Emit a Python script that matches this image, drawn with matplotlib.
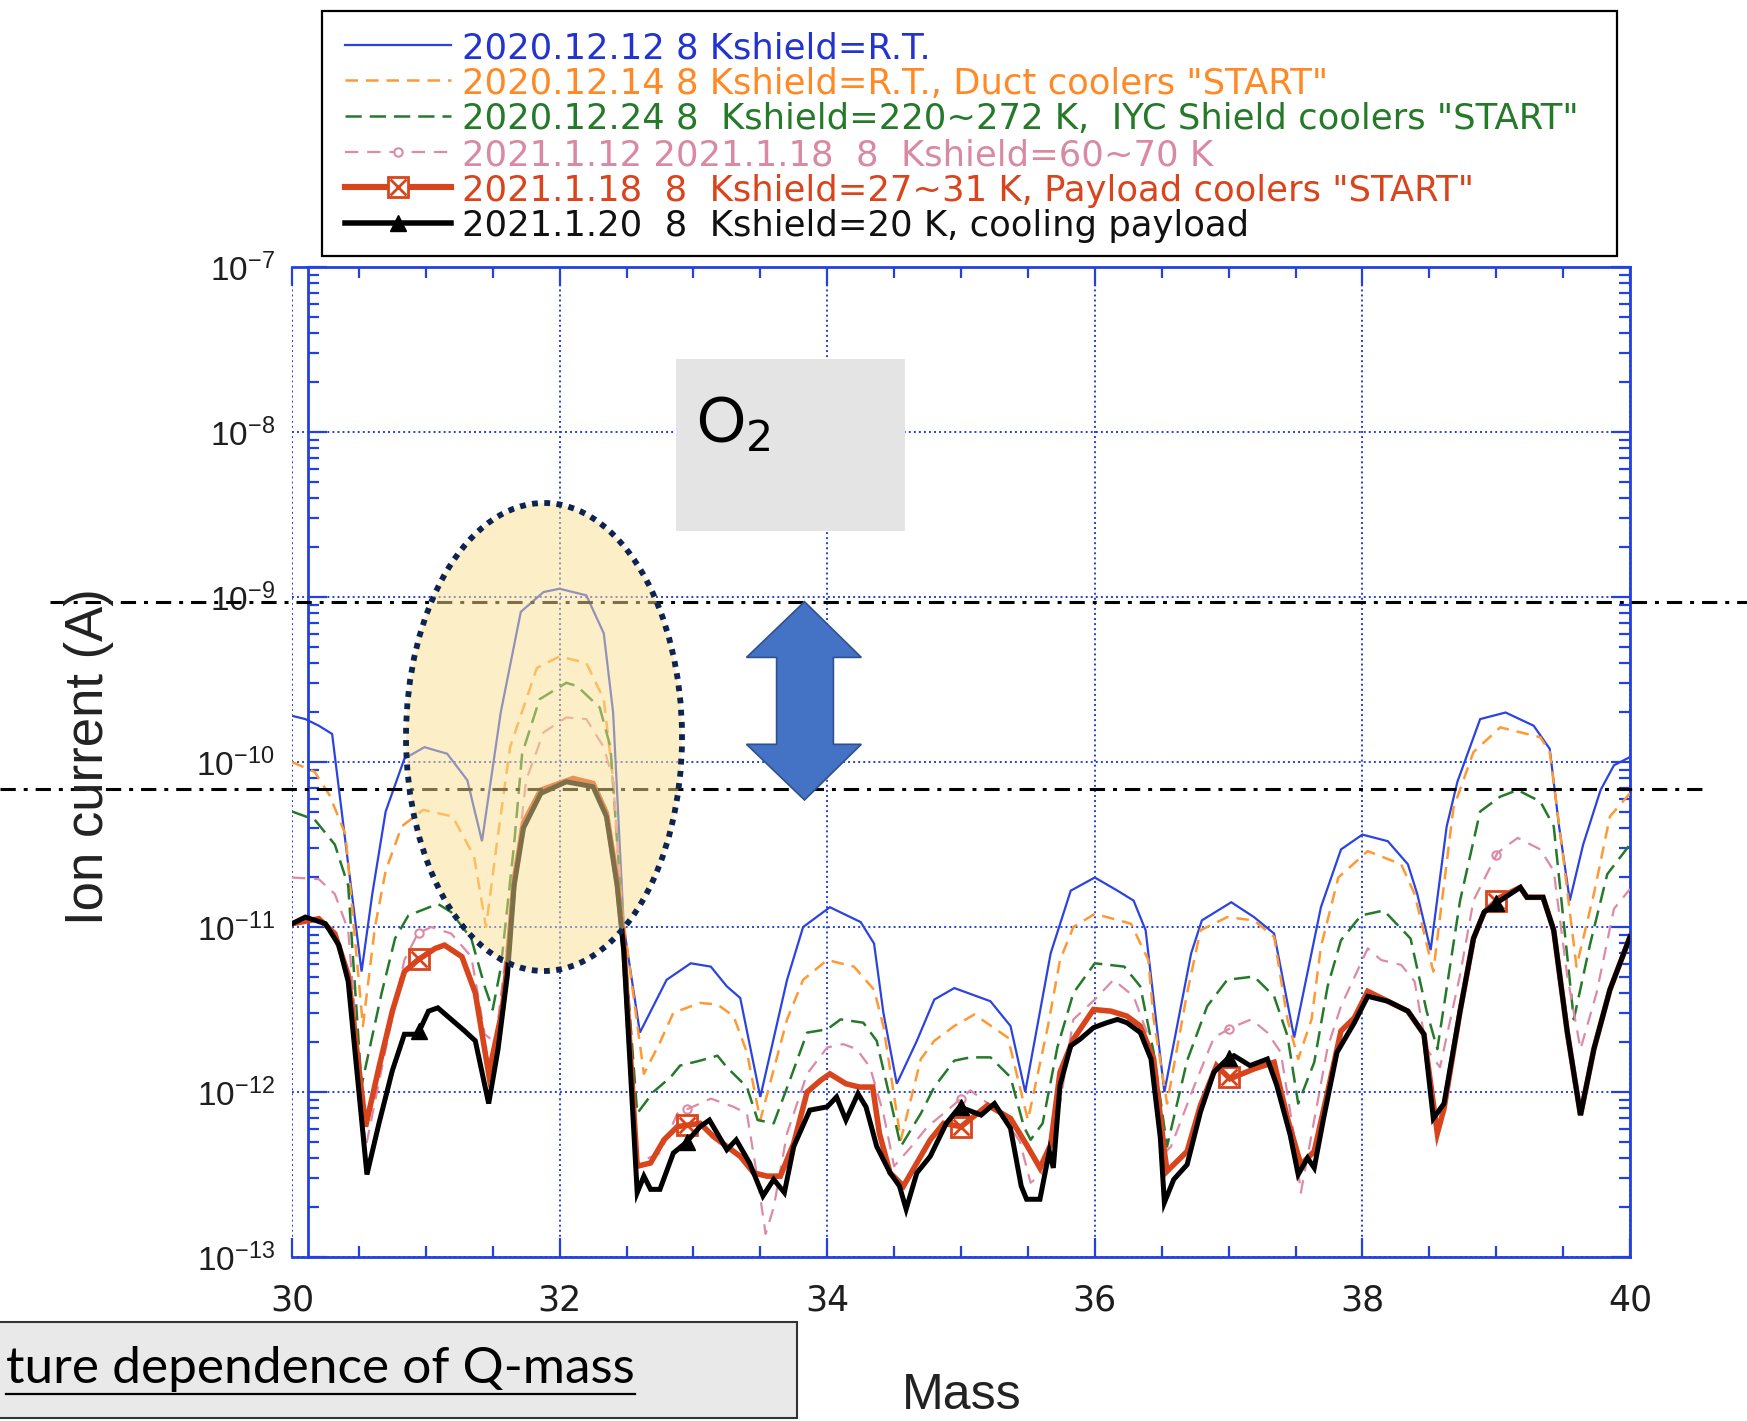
import numpy as np
import matplotlib
matplotlib.use("Agg")
import matplotlib.pyplot as plt
from matplotlib.lines import Line2D
from matplotlib.patches import Ellipse, Rectangle, Polygon
from matplotlib.ticker import LogLocator, MultipleLocator, NullFormatter

# ---- data (mass vs log10 of ion current [A]) ----
blue_mass = [30.0, 30.1, 30.2, 30.3, 30.42, 30.52, 30.6, 30.7, 30.84, 30.99, 31.16, 31.31, 31.42, 31.56,
             31.71, 31.88, 32.0, 32.2, 32.33, 32.4, 32.48, 32.6, 32.8, 32.98, 33.13, 33.25, 33.35, 33.5,
             33.7, 33.82, 34.02, 34.25, 34.35, 34.42, 34.52, 34.67, 34.8, 34.95, 35.22, 35.37, 35.48,
             35.67, 35.82, 36.0, 36.17, 36.29, 36.38, 36.52, 36.72, 36.8, 37.02, 37.19, 37.34, 37.49,
             37.69, 37.84, 38.0, 38.19, 38.34, 38.41, 38.51, 38.63, 38.71, 38.88, 39.07, 39.28, 39.40,
             39.47, 39.55, 39.65, 39.78, 39.88, 40.0]
blue_log = [-9.72, -9.74, -9.78, -9.83, -10.62, -11.27, -10.8, -10.30, -9.98, -9.91, -9.95, -10.11, -10.48,
            -9.70, -9.09, -8.97, -8.95, -8.99, -9.22, -9.70, -11.0, -11.64, -11.32, -11.22, -11.24, -11.36,
            -11.43, -12.03, -11.32, -11.0, -10.88, -10.97, -11.10, -11.52, -11.95, -11.69, -11.44, -11.37,
            -11.45, -11.60, -12.0, -11.16, -10.78, -10.70, -10.78, -10.84, -11.02, -12.0, -11.16, -10.96,
            -10.85, -10.94, -11.04, -11.67, -10.88, -10.53, -10.44, -10.48, -10.62, -10.80, -11.14, -10.39,
            -10.12, -9.74, -9.70, -9.78, -9.92, -10.39, -10.84, -10.50, -10.17, -10.02, -9.97]

orange_mass = [30.0, 30.17, 30.28, 30.40, 30.53, 30.62, 30.70, 30.82, 30.98, 31.2, 31.36, 31.45, 31.53,
               31.63, 31.83, 32.0, 32.2, 32.33, 32.4, 32.47, 32.63, 32.75, 32.85, 33.05, 33.18, 33.3, 33.4,
               33.5, 33.7, 33.82, 34.0, 34.2, 34.35, 34.42, 34.55, 34.70, 34.8, 34.95, 35.1, 35.35, 35.5,
               35.65, 35.74, 35.84, 36.0, 36.27, 36.4, 36.44, 36.54, 36.69, 36.79, 36.99, 37.19, 37.34,
               37.44, 37.52, 37.62, 37.69, 37.82, 38.04, 38.29, 38.39, 38.53, 38.68, 38.83, 39.03, 39.33,
               39.40, 39.48, 39.60, 39.73, 39.85, 40.0]
orange_log = [-10.0, -10.06, -10.2, -10.44, -11.60, -11.0, -10.66, -10.39, -10.29, -10.33, -10.57, -11.0,
              -10.5, -9.91, -9.43, -9.36, -9.40, -9.62, -10.11, -10.92, -11.89, -11.70, -11.52, -11.46,
              -11.47, -11.54, -11.76, -12.17, -11.56, -11.32, -11.2, -11.24, -11.38, -11.60, -12.29, -11.80,
              -11.69, -11.60, -11.53, -11.67, -12.17, -11.6, -11.2, -11.0, -10.92, -10.98, -11.2, -11.56,
              -12.07, -11.40, -11.02, -10.94, -10.96, -11.06, -11.56, -11.80, -11.56, -11.12, -10.70,
              -10.54, -10.62, -10.80, -11.27, -10.28, -9.94, -9.79, -9.85, -9.94, -10.44, -11.24, -10.80,
              -10.33, -10.19]

green_mass = [30.0, 30.17, 30.32, 30.42, 30.52, 30.67, 30.77, 30.87, 31.09, 31.19, 31.34, 31.44, 31.5,
              31.56, 31.66, 31.72, 31.85, 32.05, 32.13, 32.3, 32.38, 32.45, 32.58, 32.7, 32.83, 32.9, 33.05,
              33.18, 33.25, 33.4, 33.48, 33.6, 33.72, 33.85, 34.0, 34.1, 34.27, 34.37, 34.45, 34.55, 34.7,
              34.8, 34.95, 35.07, 35.22, 35.37, 35.47, 35.52, 35.61, 35.72, 35.84, 36.0, 36.22, 36.34,
              36.44, 36.54, 36.69, 36.84, 36.99, 37.19, 37.34, 37.44, 37.52, 37.64, 37.74, 37.84, 37.99,
              38.16, 38.36, 38.48, 38.56, 38.73, 38.88, 39.03, 39.16, 39.33, 39.43, 39.58, 39.70, 39.83, 40.0]
green_log = [-10.3, -10.35, -10.50, -10.75, -11.96, -11.40, -11.07, -10.93, -10.86, -10.91, -11.07, -11.36,
             -11.5, -11.25, -10.5, -9.95, -9.62, -9.52, -9.54, -9.67, -9.91, -10.72, -12.13, -12.0, -11.91,
             -11.84, -11.81, -11.78, -11.85, -11.97, -12.17, -12.19, -11.93, -11.64, -11.62, -11.56, -11.58,
             -11.69, -11.97, -12.33, -12.13, -11.97, -11.81, -11.79, -11.79, -11.91, -12.21, -12.29, -12.19,
             -11.73, -11.40, -11.22, -11.24, -11.36, -11.76, -12.33, -11.81, -11.48, -11.32, -11.30, -11.42,
             -11.66, -12.07, -11.82, -11.36, -11.08, -10.93, -10.90, -11.07, -11.51, -11.74, -10.84, -10.30,
             -10.21, -10.17, -10.24, -10.39, -11.56, -11.11, -10.68, -10.50]

pink_mass = [30.0, 30.2, 30.32, 30.42, 30.55, 30.7, 30.84, 30.94, 31.04, 31.19, 31.34, 31.44, 31.52, 31.65,
             31.75, 31.88, 32.05, 32.2, 32.33, 32.4, 32.45, 32.58, 32.75, 32.88, 33.05, 33.13, 33.3, 33.4,
             33.48, 33.54, 33.6, 33.7, 33.85, 34.0, 34.12, 34.22, 34.32, 34.42, 34.5, 34.63, 34.75, 34.9,
             35.07, 35.3, 35.44, 35.52, 35.6, 35.72, 35.84, 36.0, 36.14, 36.29, 36.39, 36.52, 36.57, 36.74,
             36.89, 37.02, 37.17, 37.29, 37.39, 37.49, 37.54, 37.64, 37.74, 37.84, 38.04, 38.14, 38.29,
             38.39, 38.48, 38.58, 38.73, 38.83, 39.01, 39.16, 39.33, 39.43, 39.53, 39.63, 39.75, 39.88, 40.0]
pink_log = [-10.7, -10.71, -10.80, -11.02, -12.34, -11.74, -11.20, -11.04, -11.0, -11.04, -11.18, -11.65,
            -11.7, -10.82, -10.11, -9.82, -9.73, -9.74, -9.91, -10.11, -10.72, -12.43, -12.37, -12.13,
            -12.07, -12.04, -12.09, -12.13, -12.53, -12.86, -12.70, -12.25, -11.89, -11.73, -11.71, -11.74,
            -11.85, -12.13, -12.45, -12.33, -12.21, -12.11, -11.99, -12.13, -12.3, -12.55, -12.5, -12.17,
            -11.56, -11.44, -11.32, -11.42, -11.64, -12.37, -12.33, -11.97, -11.67, -11.61, -11.56, -11.64,
            -11.76, -12.27, -12.61, -12.17, -11.73, -11.48, -11.13, -11.20, -11.23, -11.33, -11.74, -11.85,
            -11.29, -10.84, -10.55, -10.46, -10.53, -10.66, -11.29, -11.74, -11.40, -10.89, -10.77]

red_mass = [30.0, 30.2, 30.32, 30.42, 30.55, 30.65, 30.75, 30.84, 30.94, 31.07, 31.14, 31.27, 31.37, 31.47,
            31.57, 31.61, 31.66, 31.73, 31.86, 32.1, 32.25, 32.35, 32.43, 32.48, 32.58, 32.68, 32.78, 32.88,
            33.05, 33.15, 33.25, 33.35, 33.45, 33.55, 33.65, 33.75, 33.85, 33.95, 34.02, 34.14, 34.24,
            34.34, 34.39, 34.47, 34.57, 34.67, 34.77, 34.87, 35.0, 35.2, 35.37, 35.49, 35.59, 35.67, 35.74,
            35.84, 35.99, 36.12, 36.24, 36.34, 36.44, 36.52, 36.54, 36.69, 36.79, 36.91, 37.01, 37.19,
            37.34, 37.44, 37.54, 37.64, 37.74, 37.84, 37.94, 38.04, 38.19, 38.34, 38.46, 38.56, 38.61,
            38.73, 38.83, 38.91, 39.03, 39.18, 39.23, 39.35, 39.43, 39.53, 39.63, 39.73, 39.85, 40.0]
red_log = [-10.98, -10.95, -11.04, -11.29, -12.21, -11.85, -11.51, -11.27, -11.20, -11.13, -11.11, -11.18,
           -11.40, -11.89, -11.51, -11.22, -10.72, -10.37, -10.17, -10.10, -10.13, -10.31, -10.72, -11.12,
           -12.45, -12.43, -12.29, -12.21, -12.19, -12.27, -12.33, -12.39, -12.49, -12.51, -12.51, -12.31,
           -12.0, -11.93, -11.89, -11.95, -11.97, -11.97, -12.25, -12.49, -12.57, -12.43, -12.29, -12.19,
           -12.21, -12.08, -12.16, -12.32, -12.46, -12.32, -11.88, -11.68, -11.50, -11.51, -11.54, -11.60,
           -11.80, -12.36, -12.48, -12.36, -12.08, -11.84, -11.92, -11.86, -11.82, -12.16, -12.44, -12.36,
           -12.0, -11.63, -11.55, -11.39, -11.45, -11.51, -11.65, -12.25, -12.1, -11.51, -11.07, -10.91,
           -10.82, -10.76, -10.82, -10.82, -11.02, -11.63, -12.14, -11.74, -11.38, -11.06]

black_mass = [30.0, 30.1, 30.25, 30.35, 30.42, 30.56, 30.65, 30.75, 30.84, 30.94, 31.02, 31.09, 31.19,
              31.29, 31.37, 31.47, 31.54, 31.61, 31.66, 31.73, 31.86, 32.05, 32.25, 32.35, 32.43, 32.48,
              32.58, 32.63, 32.68, 32.75, 32.85, 32.94, 33.05, 33.12, 33.25, 33.32, 33.42, 33.52, 33.6,
              33.68, 33.75, 33.87, 34.0, 34.07, 34.14, 34.23, 34.29, 34.37, 34.47, 34.54, 34.59, 34.67,
              34.77, 34.89, 34.99, 35.15, 35.25, 35.37, 35.45, 35.49, 35.59, 35.66, 35.69, 35.74, 35.82,
              35.89, 35.99, 36.09, 36.17, 36.24, 36.34, 36.42, 36.49, 36.52, 36.59, 36.69, 36.79, 36.89,
              36.99, 37.04, 37.16, 37.29, 37.36, 37.46, 37.52, 37.59, 37.64, 37.71, 37.81, 37.94, 38.04,
              38.19, 38.34, 38.46, 38.53, 38.61, 38.73, 38.83, 38.91, 39.03, 39.18, 39.23, 39.35, 39.43,
              39.53, 39.63, 39.73, 39.85, 40.0]
black_log = [-10.98, -10.94, -10.98, -11.11, -11.33, -12.50, -12.19, -11.87, -11.65, -11.65, -11.51, -11.49,
             -11.56, -11.63, -11.69, -12.07, -11.74, -11.29, -10.75, -10.40, -10.19, -10.12, -10.15, -10.33,
             -10.75, -11.15, -12.61, -12.51, -12.59, -12.59, -12.37, -12.31, -12.21, -12.17, -12.35, -12.29,
             -12.43, -12.63, -12.53, -12.61, -12.33, -12.11, -12.09, -12.03, -12.17, -12.01, -12.09, -12.33,
             -12.49, -12.57, -12.71, -12.49, -12.39, -12.19, -12.09, -12.14, -12.07, -12.22, -12.57, -12.65,
             -12.65, -12.36, -12.46, -11.96, -11.72, -11.68, -11.61, -11.58, -11.56, -11.58, -11.64, -11.80,
             -12.28, -12.67, -12.53, -12.44, -12.12, -11.88, -11.80, -11.78, -11.84, -11.80, -11.96, -12.26,
             -12.50, -12.40, -12.46, -12.16, -11.76, -11.58, -11.42, -11.45, -11.51, -11.65, -12.16, -12.07,
             -11.51, -11.07, -10.91, -10.84, -10.76, -10.82, -10.82, -11.02, -11.63, -12.14, -11.74, -11.38,
             -11.06]

marker_mass = [30.95, 32.95, 35.0, 37.0, 39.0]

labels = [
    '2020.12.12 8 Kshield=R.T.',
    '2020.12.14 8 Kshield=R.T., Duct coolers "START"',
    '2020.12.24 8  Kshield=220~272 K,  IYC Shield coolers "START"',
    '2021.1.12 2021.1.18  8  Kshield=60~70 K',
    '2021.1.18  8  Kshield=27~31 K, Payload coolers "START"',
    '2021.1.20  8  Kshield=20 K, cooling payload',
]
x_ticks = [30, 32, 34, 36, 38, 40]

# ---- figure ----
W, H = 1747, 1421
fig = plt.figure(figsize=(W / 100, H / 100), dpi=100)


def fx(x):
    return x / W


def fy(y):
    return 1 - y / H


AXBLUE = '#2340e0'
ax = fig.add_axes([fx(292), fy(1257), (1630 - 292) / W, (1257 - 267) / H])

colors = ['#2b44e0', '#ff9933', '#257a2a', '#dc8aa6', '#d8441c', 'black']
text_colors = ['#2233d0', '#ff8a25', '#257a2a', '#d98aa3', '#d9441c', '#111111']
styles = [
    dict(ls='-', lw=1.6),
    dict(ls=(0, (5, 3.2)), lw=1.8),
    dict(ls=(0, (6.5, 3.2)), lw=1.8),
    dict(ls=(0, (6, 4)), lw=1.6),
    dict(ls='-', lw=4.0),
    dict(ls='-', lw=3.6),
]
masses = [blue_mass, orange_mass, green_mass, pink_mass, red_mass, black_mass]
logs = [blue_log, orange_log, green_log, pink_log, red_log, black_log]

for i, (m, v) in enumerate(zip(masses, logs)):
    ax.plot(m, 10.0 ** np.array(v), color=colors[i], solid_joinstyle='miter',
            zorder=3 + (i >= 4) + (i == 5), **styles[i])

# markers on pink / red / black series
pk = 10.0 ** np.interp(marker_mass, pink_mass, pink_log)
ax.plot(marker_mass, pk, ls='none', marker='o', ms=6, mfc='none', mec=colors[3], mew=1.5, zorder=3)
rd = 10.0 ** np.interp(marker_mass, red_mass, red_log)
ax.plot(marker_mass, rd, ls='none', marker='s', ms=15, mfc='none', mec=colors[4], mew=2, zorder=4)
ax.plot(marker_mass, rd, ls='none', marker='x', ms=11, mec=colors[4], mew=2, zorder=4)
bk = 10.0 ** np.interp(marker_mass, black_mass, black_log)
ax.plot(marker_mass, bk, ls='none', marker='^', ms=11, color='black', zorder=5)

ax.set_yscale('log')
ax.set_xlim(30, 40)
ax.set_ylim(1e-13, 1e-7)
ax.set_xticks(x_ticks)
ax.xaxis.set_minor_locator(MultipleLocator(0.5))
ax.yaxis.set_major_locator(LogLocator(base=10, numticks=10))
ax.yaxis.set_minor_locator(LogLocator(base=10, subs=np.arange(2, 10), numticks=20))
ax.yaxis.set_minor_formatter(NullFormatter())
ax.grid(True, which='major', color=AXBLUE, ls=(0, (1, 1.6)), lw=1.4)
ax.set_axisbelow(False)

for s in ax.spines.values():
    s.set_color(AXBLUE)
    s.set_linewidth(2)
ax.spines['left'].set_position(('data', 30.12))

ax.tick_params(which='both', direction='in', top=True, right=True, color=AXBLUE, width=1.6)
ax.tick_params(which='major', length=14)
ax.tick_params(which='minor', length=8)
ax.tick_params(axis='x', labelsize=25, labelcolor='#1e1e1e', pad=19)
ax.tick_params(axis='y', labelsize=24, labelcolor='#1e1e1e', pad=24)
for t in ax.get_xticklabels():
    t.set_fontfamily('DejaVu Sans')
for t in ax.get_yticklabels():
    t.set_fontfamily(['Liberation Sans', 'DejaVu Sans'])

# axis titles
fig.text(fx(89), fy(757), 'Ion current (A)', rotation=90, ha='center', va='center',
         fontsize=38, family=['Liberation Sans', 'DejaVu Sans'], color='#222222')
fig.text(fx(962), fy(1409), 'Mass', ha='center', va='baseline', fontsize=36,
         family=['Liberation Sans', 'DejaVu Sans'], color='#222222')

# ---- legend box ----
fig.add_artist(Rectangle((fx(322), fy(256)), (1617 - 322) / W, (256 - 11) / H, transform=fig.transFigure,
                         facecolor='white', edgecolor='black', lw=1.6, zorder=6))
row_y = [44.6 + 35.65 * k for k in range(6)]
for i, y in enumerate(row_y):
    lw = styles[i]['lw'] * (1.1 if i >= 4 else 1.0)
    fig.add_artist(Line2D([fx(345), fx(451)], [fy(y), fy(y)], transform=fig.transFigure,
                          color=colors[i], ls=styles[i]['ls'], lw=lw, zorder=7))
    fig.text(fx(462), fy(y), labels[i], ha='left', va='center_baseline', fontsize=25.5,
             family='DejaVu Sans', color=text_colors[i], zorder=7)
fig.add_artist(Line2D([fx(398)], [fy(row_y[3])], transform=fig.transFigure, marker='o', ms=6,
                      mfc='white', mec=colors[3], mew=1.5, zorder=8))
fig.add_artist(Line2D([fx(398)], [fy(row_y[4])], transform=fig.transFigure, marker='s', ms=15,
                      mfc='white', mec=colors[4], mew=2, zorder=8))
fig.add_artist(Line2D([fx(398)], [fy(row_y[4])], transform=fig.transFigure, marker='x', ms=11,
                      mec=colors[4], mew=2, zorder=8))
fig.add_artist(Line2D([fx(398)], [fy(row_y[5])], transform=fig.transFigure, marker='^', ms=11,
                      color='black', zorder=8))

# ---- annotations ----
dashdot = (0, (5, 2.6, 1.3, 2.6))
fig.add_artist(Line2D([fx(50), fx(1747)], [fy(602), fy(602)], transform=fig.transFigure,
                      color='black', lw=2.2, ls=dashdot, zorder=1))
fig.add_artist(Line2D([fx(0), fx(1707)], [fy(789), fy(789)], transform=fig.transFigure,
                      color='black', lw=2.2, ls=dashdot, zorder=1))

fig.add_artist(Ellipse((fx(544), fy(737)), 276 / W, 468 / H, transform=fig.transFigure,
                       facecolor=(0.984, 0.875, 0.57, 0.5), edgecolor='#0d2350', lw=4.2,
                       ls=(0, (1, 1.1)), zorder=2))

fig.add_artist(Rectangle((fx(676), fy(531)), (905 - 676) / W, (531 - 359) / H, transform=fig.transFigure,
                         facecolor='#e4e4e4', edgecolor='none', zorder=2))
fig.text(fx(696), fy(442), r'O$_2$', ha='left', va='baseline', fontsize=44,
         family=['Lato', 'DejaVu Sans'], color='black', zorder=3)

arrow_px = [(804.5, 601.7), (861.3, 657.4), (833.4, 657.4), (833.4, 744.3), (861.3, 744.3), (804.5, 800.0),
            (746.5, 744.3), (776.6, 744.3), (776.6, 657.4), (746.5, 657.4)]
fig.add_artist(Polygon([(fx(a), fy(b)) for a, b in arrow_px], closed=True, transform=fig.transFigure,
                       facecolor='#4472c4', edgecolor='#2f528f', lw=1.2, zorder=3))

fig.add_artist(Rectangle((fx(-5), fy(1418)), 802 / W, (1418 - 1322) / H, transform=fig.transFigure,
                         facecolor='#e9e9e9', edgecolor='#333333', lw=1.5, zorder=2))
cap = fig.text(fx(6), fy(1383), 'ture dependence of Q-mass', ha='left', va='baseline', fontsize=37,
               family=['Lato', 'DejaVu Sans'], color='black', zorder=3)
fig.canvas.draw()
bb = cap.get_window_extent()
fig.add_artist(Line2D([bb.x0 / W, bb.x1 / W], [fy(1394), fy(1394)], transform=fig.transFigure,
                      color='black', lw=1.6, zorder=3))

fig.savefig('out.png', dpi=100)
